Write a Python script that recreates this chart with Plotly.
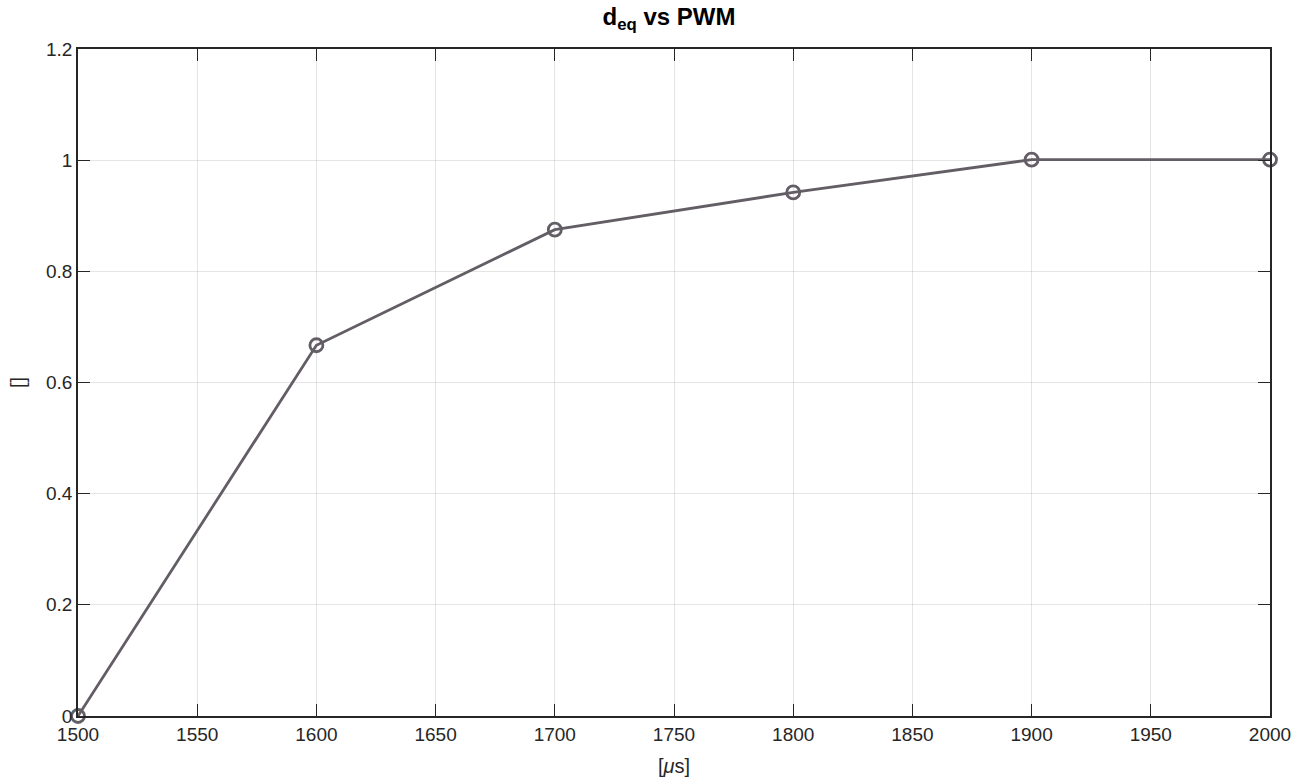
import plotly.graph_objects as go

pwm = [1500, 1600, 1700, 1800, 1900, 2000]
d_eq = [0.0, 0.667, 0.875, 0.942, 1.001, 1.001]
x_ticks = [1500, 1550, 1600, 1650, 1700, 1750, 1800, 1850, 1900, 1950, 2000]
y_ticks = [0, 0.2, 0.4, 0.6, 0.8, 1.0, 1.2]
y_tick_labels = ["0", "0.2", "0.4", "0.6", "0.8", "1", "1.2"]

line_color = "rgb(99,93,101)"
font_family = "Liberation Sans, Arial, Helvetica, sans-serif"
text_color = "#262626"

fig = go.Figure()
fig.add_trace(go.Scatter(
    x=pwm, y=d_eq, mode="lines+markers",
    line=dict(color=line_color, width=2.8),
    marker=dict(symbol="circle-open", size=13, color=line_color, line=dict(width=2.8, color=line_color)),
    cliponaxis=False, showlegend=False,
))

axis_common = dict(
    showline=True, linecolor="#262626", linewidth=1.5, mirror="ticks",
    ticks="inside", ticklen=12, tickcolor="#262626", tickwidth=1,
    showgrid=True, gridcolor="rgba(0,0,0,0.1)", gridwidth=1, zeroline=False,
    tickfont=dict(family=font_family, size=19, color=text_color),
    automargin=False,
)

fig.update_layout(
    width=1304, height=783,
    margin=dict(l=78, r=34, t=49, b=67),
    paper_bgcolor="white", plot_bgcolor="white",
    title=dict(text="<b>d<sub>eq</sub> vs PWM</b>", x=0.513, xanchor="center", y=0.99, yanchor="top",
               font=dict(family=font_family, size=24, color="black")),
    xaxis=dict(range=[1500, 2000], tickvals=x_ticks,
               title=dict(text="[<i>μ</i>s]", font=dict(family=font_family, size=20, color=text_color)),
               **axis_common),
    yaxis=dict(range=[0, 1.2], tickvals=y_ticks, ticktext=y_tick_labels,
               title=dict(text="[]", font=dict(family=font_family, size=20, color=text_color)),
               **axis_common),
)

fig.write_html("out.html")
